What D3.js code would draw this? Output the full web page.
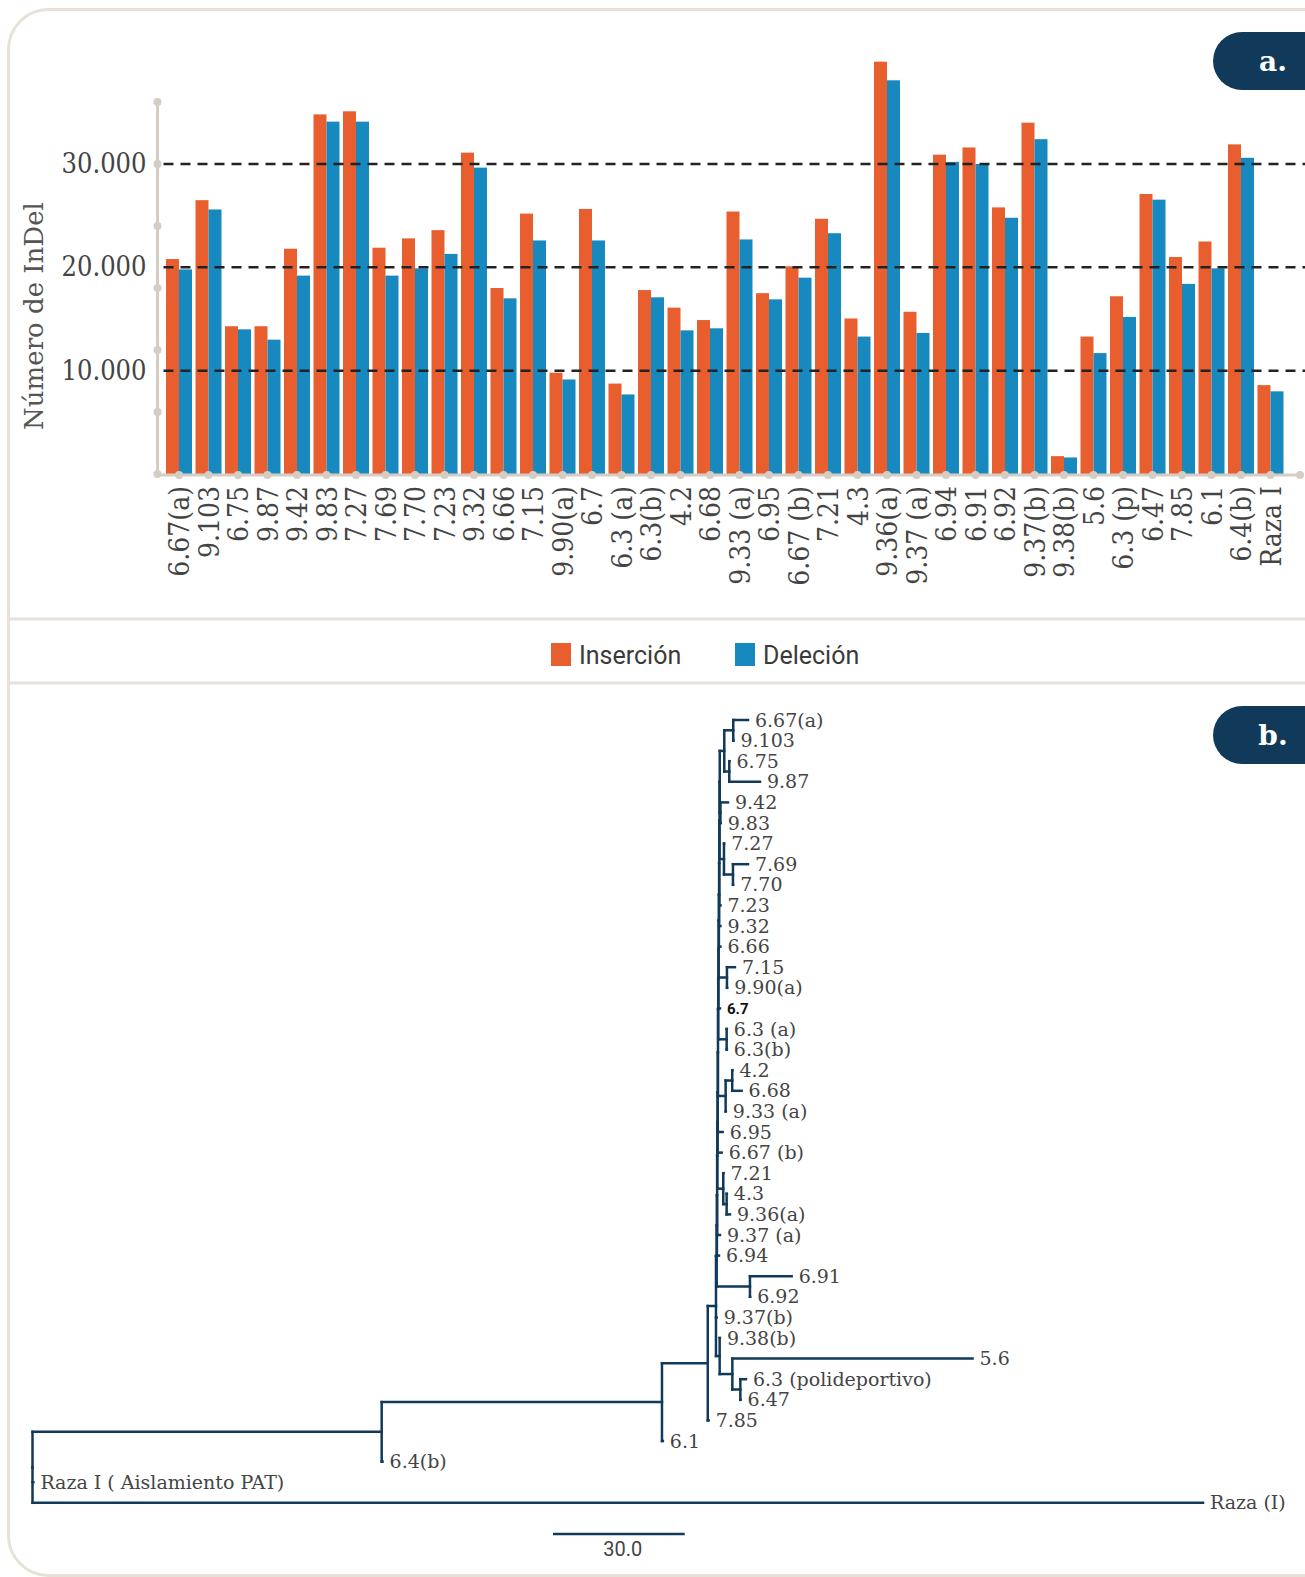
<!DOCTYPE html>
<html><head><meta charset="utf-8">
<script src="https://cdn.jsdelivr.net/npm/d3@7"></script>
<style>
html,body{margin:0;padding:0;background:#fff;}
svg{display:block;}
.slab{font-family:"DejaVu Serif",serif;font-stretch:condensed;}
.slabn{font-family:"DejaVu Serif",serif;font-stretch:normal;}
.narrow{font-family:"Liberation Sans Narrow","Roboto",sans-serif;}
</style></head><body>
<svg id="chart" width="1305" height="1577"></svg>
<script>
// ---------- DATA ----------
const categories = ["6.67(a)","9.103","6.75","9.87","9.42","9.83","7.27","7.69","7.70","7.23","9.32","6.66","7.15","9.90(a)","6.7","6.3 (a)","6.3(b)","4.2","6.68","9.33 (a)","6.95","6.67 (b)","7.21","4.3","9.36(a)","9.37 (a)","6.94","6.91","6.92","9.37(b)","9.38(b)","5.6","6.3 (p)","6.47","7.85","6.1","6.4(b)","Raza I"];
const insercion = [20800,26500,14300,14300,21800,34800,35100,21900,22800,23600,31100,18000,25200,9800,25650,8750,17800,16100,14900,25400,17500,20100,24700,15050,39900,15700,30900,31600,25800,34000,1730,13300,17200,27100,21000,22500,31900,8600];
const delecion = [19800,25600,14000,13000,19200,34100,34100,19200,19900,21300,29650,17000,22600,9150,22600,7700,17100,13900,14100,22700,16900,19000,23300,13300,38100,13650,30200,30000,24800,32400,1600,11700,15200,26550,18400,19900,30600,8000];
const seriesNames = ["Inserción","Deleción"];
const yTicks = [10000,20000,30000];
const yTickLabels = ["10.000","20.000","30.000"];
const axisDots = [0,6000,12000,18000,24000,30000,36000];
const yTitle = "Número de InDel";
const panelLabels = ["a.","b."];
// phylogenetic tree (Newick, branch lengths in tree units)
const treeNewick = [
 "((((((((((((((((((((((('6.67(a)':3.35,'9.103':0.05):2.05,('6.75':0.05,'9.87':6.99):1.14):1.03,",
 "('9.42':1.71,'9.83':0.05):0.16):0.05,('7.27':0.05,('7.69':3.42,'7.70':0.05):2.05):1.01):0.05,",
 "'7.23':0.26):0.05,'9.32':0.31):0.05,'6.66':0.36):0.05,('7.15':1.82,'9.90(a)':0.05):1.89):0.05,",
 "'6.7':0.35):0.05,('6.3 (a)':0.05,'6.3(b)':0.05):1.92):0.05,(('4.2':0.05,'6.68':2.14):1.5,'9.33 (a)':0.05):1.74):0.05,",
 "'6.95':1.11):0.05,'6.67 (b)':0.93):0.05,('7.21':0.05,('4.3':0.05,'9.36(a)':0.75):0.77):1.35):0.05,",
 "'9.37 (a)':0.65):0.05,'6.94':0.47):0.05,('6.91':9.5,'6.92':0.05):7.58):0.16,",
 "'9.37(b)':0.16,('9.38(b)':0.05,('5.6':54.71,('6.3 (polideportivo)':1.28,'6.47':0.05):1.82):2.89):0.84):1.87,",
 "'7.85':0.2):10.43,'6.1':0.2):63.85,'6.4(b)':0.2):79.54,'Raza I ( Aislamiento PAT)':0.2,'Raza (I)':266.63);"
].join("");
const boldLeaves = ["6.7"];
const scaleBarValue = 30;
const scaleBarLabel = "30.0";

// ---------- COLORS ----------
const cOrange = "#e95e2f", cBlue = "#1789bf", cNavy = "#113a5a", cFrame = "#e8e1d7", cAxis = "#d5cdc3", cText = "#444";

const svg = d3.select("#chart");

// frame
svg.append("path")
  .attr("d","M1310,9.5 H48.5 A40,40 0 0 0 8.5,49.5 V1535.5 A40,40 0 0 0 48.5,1575.5 H1310")
  .attr("fill","none").attr("stroke",cFrame).attr("stroke-width",3);
[619,683].forEach(y=>svg.append("line").attr("x1",8.5).attr("x2",1305).attr("y1",y).attr("y2",y)
  .attr("stroke",cFrame).attr("stroke-width",3));

// badges
[[32,panelLabels[0]],[706,panelLabels[1]]].forEach(([y,t])=>{
  svg.append("path").attr("d",`M1310,${y} H1242 A29,29 0 0 0 1242,${y+58} H1310 Z`).attr("fill",cNavy);
  svg.append("text").attr("x",1273).attr("y",y+29).attr("dy","0.35em").attr("text-anchor","middle")
    .attr("fill","#fff").attr("font-family","DejaVu Serif").attr("font-weight","bold").attr("font-size",28).text(t);
});

// ---------- BAR CHART ----------
const x0 = d3.scaleBand().domain(categories).range([164.25,1285.25]).paddingInner(0.1186).paddingOuter(0.0593);
const x1 = d3.scaleBand().domain(seriesNames).range([0,x0.bandwidth()]).padding(0);
const y = d3.scaleLinear().domain([0,30000]).range([474,164]);
const baseY = 475, axisX = 157.5;

const series = [insercion, delecion];
const colors = [cOrange, cBlue];
series.forEach((vals,si)=>{
  svg.append("g").selectAll("rect").data(vals).join("rect")
    .attr("x",(d,i)=>x0(categories[i])+x1(seriesNames[si]))
    .attr("width",x1.bandwidth())
    .attr("y",d=>y(d)).attr("height",d=>y(0)-y(d)+1)
    .attr("fill",colors[si]);
});

// gridlines
svg.append("g").selectAll("line").data(yTicks).join("line")
  .attr("x1",axisX+6).attr("x2",1305).attr("y1",d=>y(d)).attr("y2",d=>y(d))
  .attr("stroke","#222").attr("stroke-width",2.5).attr("stroke-dasharray","10,7");

// axis lines
svg.append("line").attr("x1",axisX).attr("x2",axisX).attr("y1",y(36000)).attr("y2",baseY)
  .attr("stroke",cAxis).attr("stroke-width",3);
svg.append("line").attr("x1",axisX).attr("x2",1300).attr("y1",baseY).attr("y2",baseY)
  .attr("stroke",cAxis).attr("stroke-width",3);
svg.append("g").selectAll("circle").data(axisDots).join("circle")
  .attr("cx",axisX).attr("cy",d=>y(d)).attr("r",4).attr("fill",cAxis);
svg.append("g").selectAll("circle").data(categories).join("circle")
  .attr("cx",d=>x0(d)+x0.bandwidth()/2).attr("cy",baseY).attr("r",4).attr("fill",cAxis);
svg.append("circle").attr("cx",1300).attr("cy",baseY).attr("r",4).attr("fill",cAxis);

// y axis labels
const yAxis = d3.axisLeft(y).tickValues(yTicks).tickFormat((d,i)=>yTickLabels[i]).tickSize(0).tickPadding(11);
const gy = svg.append("g").attr("transform",`translate(${axisX},0)`).call(yAxis);
gy.select(".domain").remove();
gy.selectAll("text").attr("class","slab").attr("font-size",27).attr("fill",cText);

// x axis labels
const xAxis = d3.axisBottom(x0).tickSize(0);
const gx = svg.append("g").attr("transform",`translate(0,${baseY})`).call(xAxis);
gx.select(".domain").remove();
gx.selectAll("text").attr("class","slab").attr("font-size",28).attr("fill",cText)
  .attr("transform","rotate(-90)").attr("y",0).attr("x",-11).attr("dy","0.36em").style("text-anchor","end");

// y title
svg.append("text").attr("class","slabn").attr("transform","translate(34,316) rotate(-90)")
  .attr("text-anchor","middle").attr("dy","0.35em").attr("font-size",26).attr("fill","#555").text(yTitle);

// legend
const legendPos = [551,735];
seriesNames.forEach((n,i)=>{
  svg.append("rect").attr("x",legendPos[i]).attr("y",643).attr("width",20).attr("height",23).attr("fill",colors[i]);
  svg.append("text").attr("class","narrow").attr("x",legendPos[i]+28).attr("y",655).attr("dy","0.35em")
    .attr("font-size",25).attr("fill","#3a3a3a").text(n);
});

// ---------- TREE ----------
function parseNewick(s){
  let i=0;
  function node(){
    const n={};
    if(s[i]==='('){
      i++; n.children=[node()];
      while(s[i]===','){i++; n.children.push(node());}
      i++;
    }
    if(s[i]==="'"){ i++; const j=s.indexOf("'",i); n.name=s.slice(i,j); i=j+1; }
    else { const m=/^[^:,();]*/.exec(s.slice(i)); n.name=m[0]; i+=m[0].length; }
    if(s[i]===':'){ i++; const m=/^[0-9.eE+-]+/.exec(s.slice(i)); n.length=+m[0]; i+=m[0].length; }
    else n.length=0;
    return n;
  }
  return node();
}
const root = d3.hierarchy(parseNewick(treeNewick));
root.eachBefore(d=>{ d.dist = d.parent ? d.parent.dist + d.data.length : 0; });
const leaves = root.leaves();
const maxDist = d3.max(leaves,d=>d.dist);
const tx = d3.scaleLinear().domain([0,maxDist]).range([32.5,32.5+maxDist*4.39]);
const ty = d3.scaleLinear().domain([0,leaves.length-1]).range([720,1502.8]);
leaves.forEach((d,i)=>d.yy=ty(i));
root.eachAfter(d=>{ if(d.children) d.yy=(d.children[0].yy+d.children[d.children.length-1].yy)/2; });

const gt = svg.append("g").attr("fill","none").attr("stroke",cNavy).attr("stroke-width",2.5).attr("stroke-linecap","square");
gt.selectAll("path.h").data(root.links()).join("path").attr("class","h")
  .attr("d",l=>`M${tx(l.source.dist)},${l.target.yy}H${tx(l.target.dist)}`);
gt.selectAll("path.v").data(root.descendants().filter(d=>d.children)).join("path").attr("class","v")
  .attr("d",d=>`M${tx(d.dist)},${d.children[0].yy}V${d.children[d.children.length-1].yy}`);

svg.append("g").selectAll("text").data(leaves).join("text")
  .attr("x",d=>tx(d.dist)+7).attr("y",d=>d.yy).attr("dy","0.35em")
  .attr("class",d=>boldLeaves.includes(d.data.name)?"narrow":"slabn")
  .attr("font-size",d=>boldLeaves.includes(d.data.name)?15:19)
  .attr("font-weight",d=>boldLeaves.includes(d.data.name)?"bold":"normal")
  .attr("fill",d=>boldLeaves.includes(d.data.name)?"#111":"#444")
  .text(d=>d.data.name);

// scale bar
const sbx = 553;
const sbw = tx(scaleBarValue)-tx(0);
svg.append("line").attr("x1",sbx).attr("x2",sbx+sbw).attr("y1",1534).attr("y2",1534)
  .attr("stroke",cNavy).attr("stroke-width",2.5);
svg.append("text").attr("class","narrow").attr("x",sbx+sbw/2+4).attr("y",1549).attr("dy","0.35em")
  .attr("text-anchor","middle").attr("font-size",20).attr("fill",cText).text(scaleBarLabel);
</script>
</body></html>
